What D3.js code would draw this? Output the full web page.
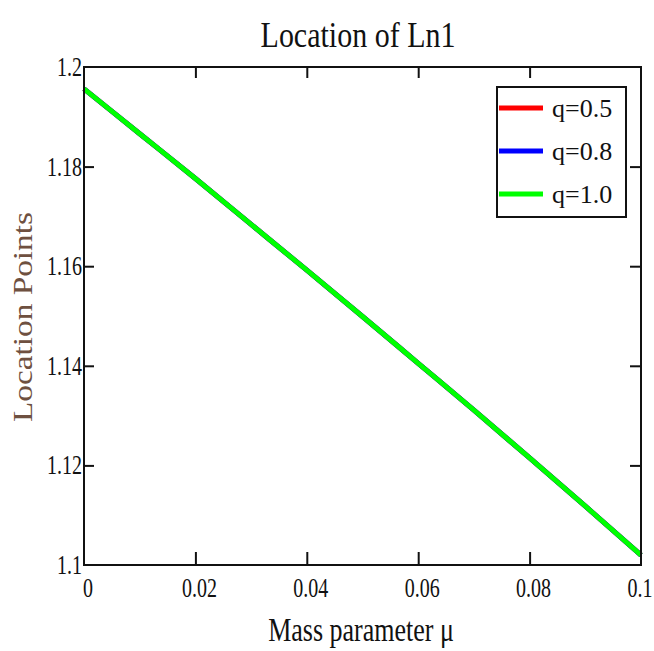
<!DOCTYPE html>
<html><head><meta charset="utf-8">
<script src="https://cdn.jsdelivr.net/npm/d3@7"></script>
<style>body{margin:0;background:#fff}svg{display:block}text{font-family:"Liberation Serif","Times New Roman",serif}</style>
</head><body>
<script>
const muValues = [0,0.01,0.02,0.03,0.04,0.05,0.06,0.07,0.08,0.09,0.1];
const q05 = [1.1956,1.1866,1.1776,1.1684,1.1592,1.1499,1.1405,1.1311,1.1215,1.1118,1.1020];
const q08 = [1.1956,1.1866,1.1776,1.1684,1.1592,1.1499,1.1405,1.1311,1.1215,1.1118,1.1020];
const q10 = [1.1956,1.1866,1.1776,1.1684,1.1592,1.1499,1.1405,1.1311,1.1215,1.1118,1.1020];
const seriesNames = ["q=0.5","q=0.8","q=1.0"];
const seriesColors = ["#ff0000","#0000ff","#00ff00"];
const xTicks = [0,0.02,0.04,0.06,0.08,0.1];
const xTickLabels = ["0","0.02","0.04","0.06","0.08","0.1"];
const yTicks = [1.1,1.12,1.14,1.16,1.18,1.2];
const yTickLabels = ["1.1","1.12","1.14","1.16","1.18","1.2"];

const W=654,H=651;
const L=84,R=641,T=67,B=565;
const svg=d3.select("body").append("svg").attr("width",W).attr("height",H);
const x=d3.scaleLinear().domain([0,0.1]).range([L,R]);
const y=d3.scaleLinear().domain([1.1,1.2]).range([B,T]);
const sY=1.4;

// title
svg.append("text").attr("transform",`translate(358,47) scale(1,1.2)`)
  .attr("text-anchor","middle").attr("font-size",30).attr("fill","#111").text("Location of Ln1");

// lines
const series=[q05,q08,q10];
const line=d3.line().curve(d3.curveMonotoneX).x((d,i)=>x(muValues[i])).y(d=>y(d));
const g=svg.append("g");
series.forEach((s,i)=>{
  g.append("path").datum(s).attr("d",line).attr("fill","none")
   .attr("stroke",seriesColors[i]).attr("stroke-width",5);
});

// frame
svg.append("rect").attr("x",L).attr("y",T).attr("width",R-L).attr("height",B-T)
  .attr("fill","none").attr("stroke","#111").attr("stroke-width",2);

// axes ticks via d3 axes
const xb=svg.append("g").attr("transform",`translate(0,${B})`)
  .call(d3.axisBottom(x).tickValues(xTicks.slice(1,-1)).tickSize(-13).tickFormat(""));
const xt=svg.append("g").attr("transform",`translate(0,${T})`)
  .call(d3.axisTop(x).tickValues(xTicks.slice(1,-1)).tickSize(-11).tickFormat(""));
const yl=svg.append("g").attr("transform",`translate(${L},0)`)
  .call(d3.axisLeft(y).tickValues(yTicks.slice(1,-1)).tickSize(-10).tickFormat(""));
const yr=svg.append("g").attr("transform",`translate(${R},0)`)
  .call(d3.axisRight(y).tickValues(yTicks.slice(1,-1)).tickSize(-11).tickFormat(""));
[xb,xt,yl,yr].forEach(a=>{a.select(".domain").remove();a.selectAll("line").attr("stroke","#111").attr("stroke-width",2);});

// tick labels
xTicks.forEach((v,i)=>{
  svg.append("text").attr("transform",`translate(${Math.min(x(v)+4,640)},597) scale(1,${sY})`)
    .attr("text-anchor","middle").attr("font-size",20).attr("fill","#111").text(xTickLabels[i]);
});
yTicks.forEach((v,i)=>{
  svg.append("text").attr("transform",`translate(82,${y(v)+9}) scale(1,${sY})`)
    .attr("text-anchor","end").attr("font-size",20).attr("fill","#111").text(yTickLabels[i]);
});

// axis titles
svg.append("text").attr("transform",`translate(361,641) scale(1,1.3)`)
  .attr("text-anchor","middle").attr("font-size",26).attr("fill","#111").text("Mass parameter μ");
svg.append("text").attr("transform",`translate(32,317) rotate(-90)`)
  .attr("text-anchor","middle").attr("font-size",27).attr("textLength",210).attr("lengthAdjust","spacingAndGlyphs")
  .attr("fill","#6e5040").text("Location Points");

// legend
const lg=svg.append("g");
lg.append("rect").attr("x",497).attr("y",87).attr("width",129).attr("height",130)
  .attr("fill","#fff").attr("stroke","#111").attr("stroke-width",2);
seriesNames.forEach((n,i)=>{
  const yy=108+i*43;
  lg.append("line").attr("x1",499).attr("x2",543).attr("y1",yy).attr("y2",yy)
    .attr("stroke",seriesColors[i]).attr("stroke-width",5);
  lg.append("text").attr("x",552).attr("y",yy+9).attr("font-size",26).attr("fill","#111").text(n);
});
</script>
</body></html>
